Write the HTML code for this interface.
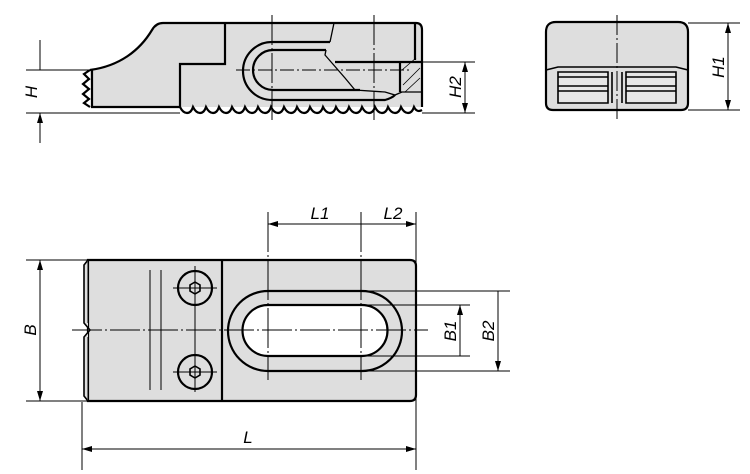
<!DOCTYPE html>
<html><head><meta charset="utf-8"><style>
html,body{margin:0;padding:0;background:#fff}
svg{display:block}
text{font-family:"Liberation Sans",sans-serif;font-style:italic;font-size:17px;fill:#000}
</style></head><body>
<svg width="750" height="474" viewBox="0 0 750 474" xmlns="http://www.w3.org/2000/svg">
<defs>
<marker id="a" viewBox="0 0 10 6" refX="10" refY="3" markerWidth="10" markerHeight="6" orient="auto-start-reverse" markerUnits="userSpaceOnUse"><path d="M0,0 L10,3 L0,6 z" fill="#000"/></marker>
</defs>
<g stroke="#000" fill="none" stroke-width="1">
<!-- SIDE VIEW -->
<path d="M90,70 C120,66 140,50 152,30 Q156,23 163,23 L416,23 Q422,23 422,30 L422,107 L92,107 Z" fill="#dedede" stroke="none"/>
<g stroke-width="2.2">
<path d="M90,70 C120,66 140,50 152,30 Q156,23 163,23 L416,23 Q422,23 422,30 L422,107"/>
<path d="M225,23 L225,64 L180,64 L180,107"/>
<path d="M92,70 L92,107 L180,107"/>
<path d="M90,70 L84,74 L89,79 L83,84 L89,89 L83,94 L89,99 L84,103 L90,107"/>
<path d="M330,42 L272,42 A29,29 0 0 0 272,100 L385,100 Q392,98 395,95"/>
<path d="M326,50 L273,50 A20,20 0 0 0 273,90 L360,90"/>
<path d="M415,24 L415,60 M335,62 L422,62 M400,62 L400,92"/>
<path d="M180,107 Q183,113 187,113 Q191,113 193,107 Q196,113 200,113 Q204,113 206,107 Q209,113 213,113 Q217,113 219,107 Q222,113 226,113 Q230,113 232,107 Q235,113 239,113 Q243,113 245,107 Q248,113 252,113 Q256,113 258,107 Q261,113 265,113 Q269,113 271,107 Q274,113 278,113 Q282,113 284,107 Q287,113 291,113 Q295,113 297,107 Q300,113 304,113 Q308,113 310,107 Q313,113 317,113 Q321,113 323,107 Q326,113 330,113 Q334,113 336,107 Q339,113 343,113 Q347,113 349,107 Q352,113 356,113 Q360,113 362,107 Q365,113 369,113 Q373,113 375,107 Q378,113 382,113 Q386,113 388,107 Q391,113 395,113 Q399,113 401,107 Q404,113 408,113 Q412,113 414,107 Q417,113 422,110"/>
</g>
<path d="M334,23 L330,42 M326,50 L325,55 L345,78 L355,90 L385,92 L395,95 L402,92 M400,92 L422,92" stroke-width="1.3"/>
<path d="M402,70 L416,58 M403,85 L420,68 M405,92 L420,78" stroke-width="0.8"/>
<path d="M236,70 L410,70" stroke-dasharray="14,3,2,3"/>
<path d="M272,15 L272,120 M374,15 L374,120" stroke-dasharray="30,3,2,3"/>
<path d="M92,80 L92,100" stroke-dasharray="6,3" stroke-width="0.8"/>
<path d="M26,70 L90,70 M26,113 L180,113"/>
<path d="M40,40 L40,70 M40,143 L40,113" marker-end="url(#a)"/>
<path d="M422,62 L475,62 M422,113 L475,113"/>
<path d="M465,62 L465,113" marker-start="url(#a)" marker-end="url(#a)"/>
<!-- FRONT VIEW -->
<path d="M556,22 L678,22 Q688,22 688,32 L688,103 Q688,110 681,110 L553,110 Q546,110 546,103 L546,32 Q546,22 556,22 Z" fill="#dedede" stroke-width="2.2"/>
<path d="M546,70 L558,67 L676,67 L688,70" stroke-width="1.6"/>
<g stroke-width="1.6">
<path d="M558,72 L608,72 L608,103 L558,103 Z M626,72 L676,72 L676,103 L626,103 Z" fill="#e6e6e6"/>
<path d="M558,77 L608,77 M558,86 L608,86 M558,91 L608,91 M626,77 L676,77 M626,86 L676,86 M626,91 L676,91 M612,72 L612,103 M622,72 L622,103"/>
</g>
<path d="M617,15 L617,120" stroke-dasharray="20,3,2,3"/>
<path d="M688,23 L740,23 M688,110 L740,110"/>
<path d="M728,23 L728,110" marker-start="url(#a)" marker-end="url(#a)"/>
<!-- TOP VIEW -->
<path d="M88,260 L410,260 Q416,260 416,266 L416,395 Q416,401 410,401 L88,401 Z" fill="#dedede" stroke-width="2.2"/>
<path d="M88,260 L84,265 L84,323 L90,330 L84,337 L84,396 L88,401" fill="#dedede" stroke-width="1.6"/>
<path d="M88,262 L88,323 M88,337 L88,399" stroke-width="1"/>
<path d="M222,260 L222,401" stroke-width="2.2"/>
<path d="M150,270 L150,390 M161,270 L161,390" stroke-width="1"/>
<path d="M268,291 L362,291 A40,40 0 0 1 362,371 L268,371 A40,40 0 0 1 268,291 Z" fill="#dedede" stroke-width="2.2"/>
<path d="M268,305 L362,305 A25,25 0 0 1 362,356 L268,356 A25,25 0 0 1 268,305 Z" fill="#fff" stroke-width="2.2"/>
<circle cx="195" cy="288" r="17" stroke-width="2.2"/>
<circle cx="195" cy="372" r="17" stroke-width="2.2"/>
<path d="M195,282 L200,285 L200,291 L195,294 L190,291 L190,285 Z M195,366 L200,369 L200,375 L195,378 L190,375 L190,369 Z" stroke-width="1.6"/>
<path d="M173,288 L217,288 M195,266 L195,392 M173,372 L217,372"/>
<path d="M72,330 L428,330" stroke-dasharray="30,3,2,3"/>
<path d="M268,212 L268,380 M361,212 L361,380" stroke-dasharray="40,3,2,3"/>
<path d="M416,212 L416,470 M82,402 L82,470"/>
<path d="M268,224 L361,224 M361,224 L416,224" marker-start="url(#a)" marker-end="url(#a)"/>
<path d="M82,449 L416,449" marker-start="url(#a)" marker-end="url(#a)"/>
<path d="M26,260 L88,260 M26,401 L88,401"/>
<path d="M40,260 L40,401" marker-start="url(#a)" marker-end="url(#a)"/>
<path d="M362,305 L470,305 M362,356 L470,356 M362,291 L510,291 M362,371 L510,371"/>
<path d="M460,305 L460,356 M498,291 L498,371" marker-start="url(#a)" marker-end="url(#a)"/>
</g>
<text transform="translate(37,92) rotate(-90)" text-anchor="middle">H</text>
<text transform="translate(461,87) rotate(-90)" text-anchor="middle">H2</text>
<text transform="translate(724,67) rotate(-90)" text-anchor="middle">H1</text>
<text x="320" y="219" text-anchor="middle">L1</text>
<text x="393" y="219" text-anchor="middle">L2</text>
<text x="248" y="443" text-anchor="middle">L</text>
<text transform="translate(36,330) rotate(-90)" text-anchor="middle">B</text>
<text transform="translate(456,331) rotate(-90)" text-anchor="middle">B1</text>
<text transform="translate(494,331) rotate(-90)" text-anchor="middle">B2</text>
</svg>
</body></html>
